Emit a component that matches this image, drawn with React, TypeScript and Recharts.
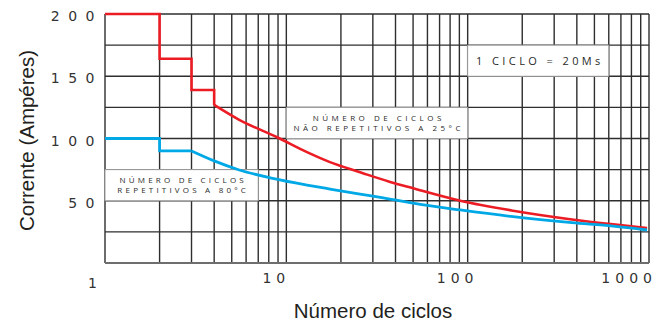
import { LineChart, Line, XAxis, YAxis, CartesianGrid, ReferenceArea } from "recharts";

// eixo x logarítmico: linhas em 1..9 de cada década
const X_TICKS = [1, 2, 3, 4, 5, 6, 7, 8, 9, 10, 20, 30, 40, 50, 60, 70, 80, 90, 100, 200, 300, 400, 500, 600, 700, 800, 900, 1000];
const X_LABELED = [1, 10, 100, 1000];
const Y_TICKS = [0, 25, 50, 75, 100, 125, 150, 175, 200];
const Y_LABELED = [50, 100, 150, 200];

// não repetitivos a 25°C (vermelho): degraus + curva
const NAO_REP_DEGRAU_N = [1, 2, 2, 3, 3, 4, 4];
const NAO_REP_DEGRAU_A = [200, 200, 164, 164, 139, 139, 127];
const NAO_REP_CURVA_N = [4, 5.5, 8.9, 13, 17.4, 26, 37, 50, 91, 178, 376, 634, 976];
const NAO_REP_CURVA_A = [127, 115, 101, 89, 81, 72.5, 65.3, 60, 50, 42, 35, 31, 28];

// repetitivos a 80°C (azul): degraus + curva
const REP_DEGRAU_N = [1, 2, 2, 3];
const REP_DEGRAU_A = [100, 100, 90, 90];
const REP_CURVA_N = [3, 4, 5.5, 8.4, 13, 17.4, 25.5, 33, 50, 91, 178, 376, 634, 976];
const REP_CURVA_A = [90, 82, 74.7, 68, 62.6, 59.4, 55.4, 52.8, 48, 42.6, 37.2, 32.4, 29.6, 26.5];

const NOTE_CICLO = ["1 CICLO = 20Ms"];
const NOTE_25 = ["NÚMERO DE CICLOS", "NÃO REPETITIVOS A 25°C"];
const NOTE_80 = ["NÚMERO DE CICLOS", "REPETITIVOS A 80°C"];

const zip = (ns: number[], as: number[]) => ns.map((n, i) => ({ n, a: as[i] }));
const redSteps = zip(NAO_REP_DEGRAU_N, NAO_REP_DEGRAU_A);
const redCurve = zip(NAO_REP_CURVA_N, NAO_REP_CURVA_A);
const blueSteps = zip(REP_DEGRAU_N, REP_DEGRAU_A);
const blueCurve = zip(REP_CURVA_N, REP_CURVA_A);

const RED = "#ec1c24";
const BLUE = "#00a9e6";
const TICK_FONT = "'DejaVu Sans', Verdana, sans-serif";
const NOTE_FONT = "'Open Sans', 'DejaVu Sans', sans-serif";
const TITLE_FONT = "'Liberation Sans', Arial, sans-serif";

function XTick({ x, y, payload, index }: any) {
  const v = payload.value;
  if (!X_LABELED.includes(v)) return null;
  const last = v === X_LABELED[X_LABELED.length - 1];
  return (
    <text
      x={last ? x + 8 : x - 10}
      y={y + (index === 0 ? 20 : 15)}
      textAnchor={last ? "end" : "middle"}
      dominantBaseline="central"
      fontSize={14}
      letterSpacing={5}
      fill="#333"
      fontFamily={TICK_FONT}
    >
      {v}
    </text>
  );
}

function YTick({ x, y, payload }: any) {
  const v = payload.value;
  if (!Y_LABELED.includes(v)) return null;
  return (
    <text x={x - 2} y={y + 2} textAnchor="end" dominantBaseline="central" fontSize={14} letterSpacing={8.5} fill="#333" fontFamily={TICK_FONT}>
      {v}
    </text>
  );
}

function BoxLabel({ viewBox, lines, size, spacing }: any) {
  if (!viewBox) return null;
  const { x, y, width, height } = viewBox;
  const lh = size + 2;
  const y0 = y + height / 2 - ((lines.length - 1) * lh) / 2;
  return (
    <text textAnchor="middle" fontSize={size} letterSpacing={spacing} fill="#2a2a2a" fontFamily={NOTE_FONT}>
      {lines.map((l: string, i: number) => (
        <tspan key={i} x={x + width / 2 + spacing / 2} y={y0 + i * lh} dy="0.35em">
          {l}
        </tspan>
      ))}
    </text>
  );
}

function YTitle({ viewBox }: any) {
  if (!viewBox) return null;
  const cx = viewBox.x + 26;
  const cy = viewBox.y + viewBox.height / 2 + 2;
  return (
    <text x={cx} y={cy} transform={`rotate(-90 ${cx} ${cy})`} textAnchor="middle" dominantBaseline="central" fontSize={20.5} fill="#231f20" fontFamily={TITLE_FONT}>
      Corrente (Ampéres)
    </text>
  );
}

function XTitle({ viewBox }: any) {
  if (!viewBox) return null;
  return (
    <text x={viewBox.x + viewBox.width / 2 - 4} y={viewBox.y + 47} textAnchor="middle" dominantBaseline="central" fontSize={20.5} fill="#231f20" fontFamily={TITLE_FONT}>
      Número de ciclos
    </text>
  );
}

export default function App() {
  return (
    <div style={{ position: "absolute", left: 0, top: 0, background: "#fff" }}>
      <LineChart width={671} height={325} margin={{ top: 14, right: 22, left: 0, bottom: 0 }}>
        <CartesianGrid stroke="#2e2e2e" strokeWidth={1.4} />
        <XAxis
          dataKey="n"
          type="number"
          scale="log"
          domain={[1, 1000]}
          ticks={X_TICKS}
          interval={0}
          allowDataOverflow
          height={62}
          tickSize={0}
          tickMargin={0}
          tickLine={false}
          axisLine={{ stroke: "#6e6e6e", strokeWidth: 2 }}
          tick={<XTick />}
          label={<XTitle />}
        />
        <YAxis
          type="number"
          domain={[0, 200]}
          ticks={Y_TICKS}
          interval={0}
          width={105}
          tickSize={0}
          tickMargin={0}
          tickLine={false}
          axisLine={false}
          tick={<YTick />}
          label={<YTitle />}
        />
        <ReferenceArea x1={100} x2={600} y1={150} y2={175} fill="#fff" fillOpacity={1} stroke="#a0a0a0" strokeWidth={1} label={<BoxLabel lines={NOTE_CICLO} size={11} spacing={3.4} />} />
        <ReferenceArea x1={10} x2={100} y1={100} y2={125} fill="#fff" fillOpacity={1} stroke="#a0a0a0" strokeWidth={1} label={<BoxLabel lines={NOTE_25} size={8} spacing={3.5} />} />
        <ReferenceArea x1={1} x2={7} y1={50} y2={75} fill="#fff" fillOpacity={1} stroke="#a0a0a0" strokeWidth={1} label={<BoxLabel lines={NOTE_80} size={8} spacing={3.2} />} />
        <Line data={redSteps} dataKey="a" type="linear" stroke={RED} strokeWidth={2.6} dot={false} isAnimationActive={false} />
        <Line data={redCurve} dataKey="a" type="monotone" stroke={RED} strokeWidth={2.6} dot={false} isAnimationActive={false} />
        <Line data={blueSteps} dataKey="a" type="linear" stroke={BLUE} strokeWidth={2.8} dot={false} isAnimationActive={false} />
        <Line data={blueCurve} dataKey="a" type="monotone" stroke={BLUE} strokeWidth={2.8} dot={false} isAnimationActive={false} />
      </LineChart>
    </div>
  );
}
